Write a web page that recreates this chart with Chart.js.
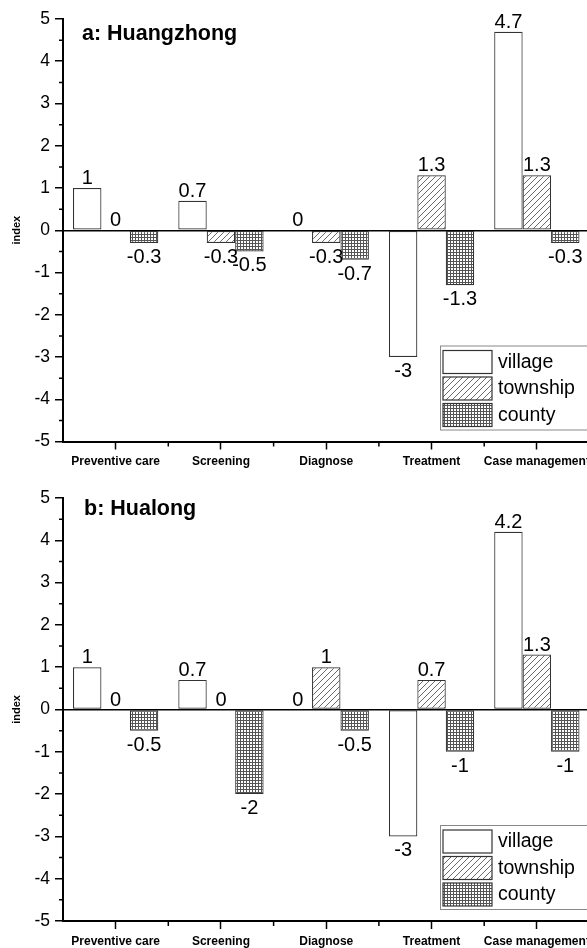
<!DOCTYPE html>
<html>
<head>
<meta charset="utf-8">
<script src="https://cdn.jsdelivr.net/npm/chart.js@4.4.1/dist/chart.umd.min.js"></script>
<style>
  html, body { margin: 0; padding: 0; background: #fff; overflow: hidden; }
  .panel { position: relative; width: 600px; height: 474px; }
</style>
</head>
<body>
<div class="panel"><canvas id="chartA"></canvas></div>
<div class="panel"><canvas id="chartB"></canvas></div>
<script>
// categories and series
const categories = ['Preventive care', 'Screening', 'Diagnose', 'Treatment', 'Case management'];
const seriesNames = ['village', 'township', 'county'];

// a: Huangzhong
const villageA  = [1, 0.7, 0, -3, 4.7];
const townshipA = [0, -0.3, -0.3, 1.3, 1.3];
const countyA   = [-0.3, -0.5, -0.7, -1.3, -0.3];

// b: Hualong
const villageB  = [1, 0.7, 0, -3, 4.2];
const townshipB = [0, 0, 1, 0.7, 1.3];
const countyB   = [-0.5, -2, -0.5, -1, -1];

const yMin = -5, yMax = 5;

const FONT = '"Liberation Sans", Arial, sans-serif';

function hatchPattern(ctx) {
  const c = document.createElement('canvas');
  c.width = 6; c.height = 6;
  const g = c.getContext('2d');
  g.fillStyle = '#fff'; g.fillRect(0, 0, 6, 6);
  g.strokeStyle = '#444'; g.lineWidth = 0.8;
  g.beginPath();
  g.moveTo(0, 6); g.lineTo(6, 0);
  g.moveTo(-1, 1); g.lineTo(1, -1);
  g.moveTo(5, 7); g.lineTo(7, 5);
  g.stroke();
  return ctx.createPattern(c, 'repeat');
}

function gridPattern(ctx) {
  const c = document.createElement('canvas');
  c.width = 3; c.height = 3;
  const g = c.getContext('2d');
  g.fillStyle = '#fff'; g.fillRect(0, 0, 3, 3);
  g.fillStyle = '#555';
  g.fillRect(0, 0, 3, 1);
  g.fillRect(0, 0, 1, 3);
  return ctx.createPattern(c, 'repeat');
}

// value labels above / below bars
const valueLabels = {
  id: 'valueLabels',
  afterDatasetsDraw(chart) {
    const ctx = chart.ctx;
    ctx.save();
    ctx.font = '20px ' + FONT;
    ctx.fillStyle = '#000';
    ctx.textAlign = 'center';
    ctx.textBaseline = 'alphabetic';
    chart.data.datasets.forEach((ds, i) => {
      chart.getDatasetMeta(i).data.forEach((bar, j) => {
        const v = ds.data[j];
        const y = v < 0 ? bar.y + 20 : bar.y - 4;
        ctx.fillText(String(v), bar.x, y);
      });
    });
    ctx.restore();
  }
};

// panel title, axis title, minor ticks and legend
const decorations = {
  id: 'decorations',
  afterDraw(chart, args, opts) {
    const ctx = chart.ctx;
    const area = chart.chartArea;
    const ys = chart.scales.y, xs = chart.scales.x;
    ctx.save();
    ctx.strokeStyle = '#000';
    ctx.lineWidth = 1.5;
    // minor y ticks
    ctx.beginPath();
    for (let v = yMin + 0.5; v < yMax; v += 1) {
      const py = ys.getPixelForValue(v);
      ctx.moveTo(area.left - 4, py); ctx.lineTo(area.left, py);
    }
    // minor x ticks between categories
    for (let i = 1; i < categories.length; i++) {
      const px = (xs.getPixelForValue(i - 1) + xs.getPixelForValue(i)) / 2;
      ctx.moveTo(px, area.bottom); ctx.lineTo(px, area.bottom + 5);
    }
    ctx.stroke();

    // title
    ctx.fillStyle = '#000';
    ctx.font = 'bold 21.5px ' + FONT;
    ctx.textAlign = 'left';
    ctx.textBaseline = 'alphabetic';
    ctx.fillText(opts.title, area.left + opts.titleDx, area.top + opts.titleDy);

    // y axis title
    ctx.save();
    ctx.translate(17, (area.top + area.bottom) / 2);
    ctx.rotate(-Math.PI / 2);
    ctx.font = 'bold 11px ' + FONT;
    ctx.textAlign = 'center';
    ctx.textBaseline = 'middle';
    ctx.fillText('index', 0, 0);
    ctx.restore();

    // legend
    const bx = 440, by = area.bottom - 96, bw = 160, bh = 84;
    ctx.fillStyle = '#fff';
    ctx.fillRect(bx, by, bw, bh);
    ctx.strokeStyle = '#888';
    ctx.lineWidth = 1;
    ctx.strokeRect(bx + 0.5, by + 0.5, bw, bh);
    ctx.font = '19.5px ' + FONT;
    ctx.textBaseline = 'middle';
    chart.data.datasets.forEach((ds, i) => {
      const sy = by + 5 + i * 26.5;
      ctx.fillStyle = ds.backgroundColor;
      ctx.fillRect(bx + 3, sy, 49, 23);
      ctx.strokeStyle = '#333';
      ctx.lineWidth = 1.2;
      ctx.strokeRect(bx + 3, sy, 49, 23);
      ctx.fillStyle = '#000';
      ctx.fillText(ds.label, bx + 58, sy + 12);
    });
    ctx.restore();
  }
};

function makeChart(id, village, township, county, title, topPad, xHeight, titleDx, titleDy) {
  const el = document.getElementById(id);
  const ctx = el.getContext('2d');
  const fills = ['#fff', hatchPattern(ctx), gridPattern(ctx)];
  const values = [village, township, county];
  return new Chart(el, {
    type: 'bar',
    data: {
      labels: categories,
      datasets: seriesNames.map((name, i) => ({
        label: name,
        data: values[i],
        backgroundColor: fills[i],
        borderColor: '#333',
        borderWidth: 1.2,
        borderSkipped: false,
        categoryPercentage: 0.81,
        barPercentage: 1
      }))
    },
    options: {
      responsive: true,
      maintainAspectRatio: false,
      animation: false,
      layout: { padding: { top: topPad, right: 10.5, bottom: 0, left: 0 } },
      plugins: {
        legend: { display: false },
        tooltip: { enabled: false },
        decorations: { title, titleDx, titleDy }
      },
      scales: {
        x: {
          offset: true,
          grid: { offset: false, drawOnChartArea: false, tickLength: 8, tickColor: '#000', tickWidth: 1.5 },
          border: { color: '#000', width: 2 },
          ticks: { color: '#000', font: { family: FONT, size: 12, weight: 'bold' }, padding: 5, maxRotation: 0, autoSkip: false },
          afterFit(scale) { scale.height = xHeight; }
        },
        y: {
          min: yMin, max: yMax,
          grid: {
            drawOnChartArea: true,
            color: c => (c.tick && c.tick.value === 0 ? '#000' : 'rgba(0,0,0,0)'),
            lineWidth: 1.5,
            tickLength: 8,
            tickColor: '#000',
            tickWidth: 1.5
          },
          border: { color: '#000', width: 2 },
          ticks: { stepSize: 1, color: '#000', font: { family: FONT, size: 17.5 }, padding: 5 },
          afterFit(scale) { scale.width = 63; }
        }
      }
    },
    plugins: [valueLabels, decorations]
  });
}

makeChart('chartA', villageA, townshipA, countyA, 'a: Huangzhong', 19, 32.5, 19, 21);
makeChart('chartB', villageB, townshipB, countyB, 'b: Hualong', 24, 27, 21, 17);
</script>
</body>
</html>
